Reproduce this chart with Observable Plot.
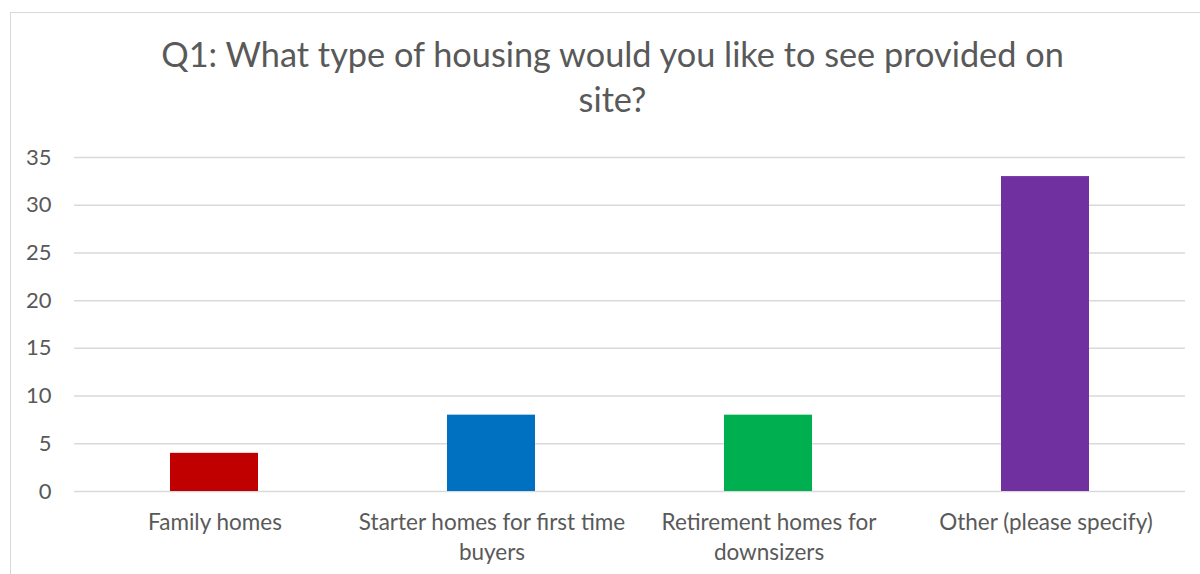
<!DOCTYPE html>
<html>
<head>
<meta charset="utf-8">
<script src="https://cdn.jsdelivr.net/npm/d3@7"></script>
<script src="https://cdn.jsdelivr.net/npm/@observablehq/plot@0.6"></script>
<style>
  html, body { margin: 0; padding: 0; background: #fff; overflow: hidden; }
  #wrap { position: relative; width: 1200px; height: 574px; overflow: hidden; }
  #border { position: absolute; left: 10px; top: 12px; width: 1300px; height: 700px; border: 1.5px solid #d9d9d9; box-sizing: border-box; }
  #chart { position: absolute; left: 0; top: 0; }
</style>
</head>
<body>
<div id="wrap"><div id="border"></div><div id="chart"></div></div>
<script>
const title = "Q1: What type of housing would you like to see provided on\nsite?";
const categories = ["Family homes", "Starter homes for first time buyers", "Retirement homes for downsizers", "Other (please specify)"];
const categoryLabels = ["Family homes", "Starter homes for first time\nbuyers", "Retirement homes for\ndownsizers", "Other (please specify)"];
const values = [4, 8, 8, 33];
const colors = ["#C00000", "#0070C0", "#00B050", "#7030A0"];
const yTicks = [0, 5, 10, 15, 20, 25, 30, 35];

const data = categories.map((c, i) => ({category: c, label: categoryLabels[i], value: values[i]}));
const font = "Lato, 'Open Sans', sans-serif";

const chart = Plot.plot({
  width: 1200,
  height: 574,
  marginLeft: 74,
  marginRight: 15,
  marginTop: 157,
  marginBottom: 83,
  style: {fontFamily: font, color: "#595959", background: "transparent"},
  x: {domain: categories, padding: 0, axis: null},
  y: {domain: [0, 35], ticks: yTicks, label: null},
  color: {domain: categories, range: colors},
  marks: [
    Plot.gridY(yTicks, {stroke: "#d9d9d9", strokeOpacity: 1, strokeWidth: 1.5}),
    Plot.barY(data, {x: "category", y: "value", fill: "category", insetLeft: 94, insetRight: 95}),
    Plot.axisY(yTicks, {tickSize: 0, tickPadding: 23, fontSize: 22, fill: "#595959", label: null}),
    Plot.text(data, {x: "category", text: "label", frameAnchor: "bottom", lineAnchor: "top", dy: 17, fontSize: 22.5, fill: "#595959", lineHeight: 1.33}),
    Plot.text([title], {frameAnchor: "top", x: null, dx: 612 - (74 + (1200 - 15 - 74) / 2), dy: -122, lineAnchor: "top", fontSize: 34.3, fill: "#595959", lineHeight: 1.31})
  ]
});
document.getElementById("chart").appendChild(chart);
</script>
</body>
</html>
